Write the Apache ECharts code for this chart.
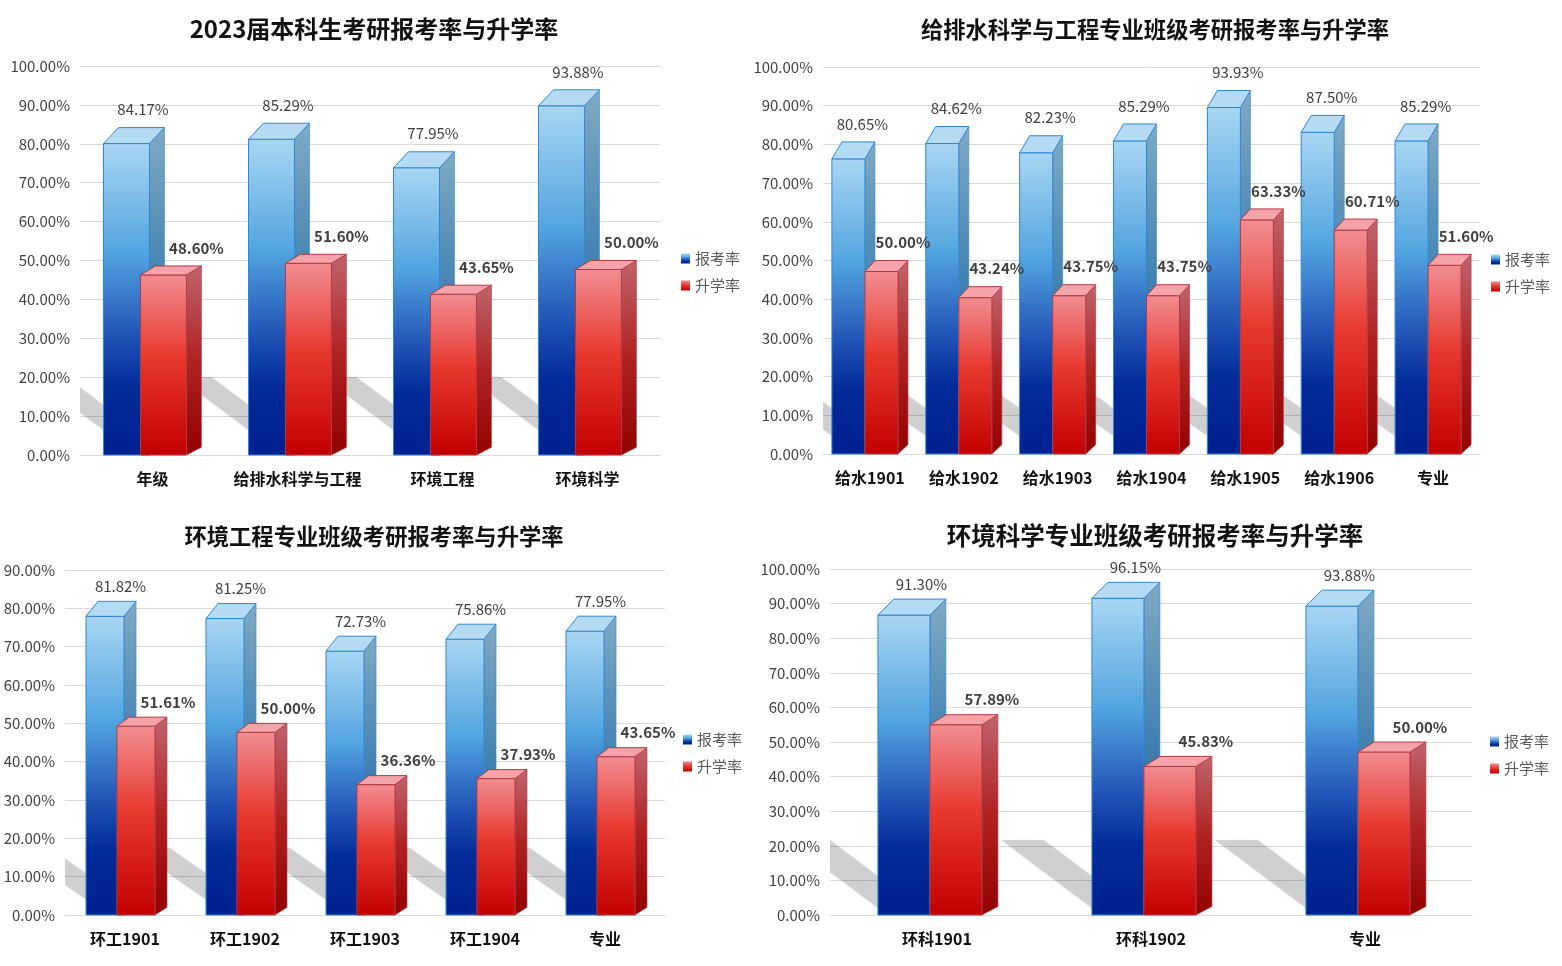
<!DOCTYPE html>
<html>
<head>
<meta charset="utf-8">
<title>考研报考率与升学率</title>
<script src="https://cdn.jsdelivr.net/npm/echarts@6/dist/echarts.min.js"></script>
<style>
html, body { margin: 0; padding: 0; background: #fff; }
#container { width: 1562px; height: 966px; }
</style>
</head>
<body>
<div id="container"></div>
<script>
// ---- data ----
var names = ['报考率', '升学率'];

var title1 = '2023届本科生考研报考率与升学率';
var cats1 = ['年级', '给排水科学与工程', '环境工程', '环境科学'];
var baokao1 = [84.17, 85.29, 77.95, 93.88];
var shengxue1 = [48.60, 51.60, 43.65, 50.00];

var title2 = '给排水科学与工程专业班级考研报考率与升学率';
var cats2 = ['给水1901', '给水1902', '给水1903', '给水1904', '给水1905', '给水1906', '专业'];
var baokao2 = [80.65, 84.62, 82.23, 85.29, 93.93, 87.50, 85.29];
var shengxue2 = [50.00, 43.24, 43.75, 43.75, 63.33, 60.71, 51.60];

var title3 = '环境工程专业班级考研报考率与升学率';
var cats3 = ['环工1901', '环工1902', '环工1903', '环工1904', '专业'];
var baokao3 = [81.82, 81.25, 72.73, 75.86, 77.95];
var shengxue3 = [51.61, 50.00, 36.36, 37.93, 43.65];

var title4 = '环境科学专业班级考研报考率与升学率';
var cats4 = ['环科1901', '环科1902', '专业'];
var baokao4 = [91.30, 96.15, 93.88];
var shengxue4 = [57.89, 45.83, 50.00];

var yMax = [100, 100, 90, 100];

// ---- layout / look ----
var FONT = '"Noto Sans CJK SC", "Noto Sans", sans-serif';
var dom = document.getElementById('container');
var myChart = echarts.init(dom);

function grad(stops) {
    return new echarts.graphic.LinearGradient(0, 0, 0, 1, stops.map(function (c) {
        return { offset: c[0], color: c[1] };
    }));
}

var look = {
    blue: {
        front: [[0, '#a9d6f3'], [0.35, '#52a5e0'], [0.6, '#2458b9'], [0.78, '#032b99'], [1, '#00218f']],
        side: [[0, '#80aac4'], [0.5, '#3d7fb0'], [1, '#173f8c']],
        top: '#b4dbf3',
        line: '#2f86d6',
        bold: false
    },
    red: {
        front: [[0, '#f28d92'], [0.45, '#e8392f'], [1, '#c10000']],
        side: [[0, '#c0646e'], [0.5, '#b02222'], [1, '#940000']],
        top: '#f4a3a9',
        line: '#b23a44',
        bold: true
    }
};

// per panel bar geometry (fractions of the category band, pixels for depth)
var geo = [
    { blueL: -0.338, redL: -0.083, w: 0.317, dx: 15, dyB: 16, dyR: 9, blueLab: 9, redLab: 25.5, labY: 18, sh: { a: 71, h: 78, t: 34, s: 0.75 } },
    { blueL: -0.405, redL: -0.053, w: 0.352, dx: 10, dyB: 17, dyR: 11, blueLab: 9, redLab: 16.5, labY: 18, sh: { a: 60, h: 60, t: 40, s: 0.7 } },
    { blueL: -0.325, redL: -0.067, w: 0.317, dx: 12, dyB: 15, dyR: 9, blueLab: 9.5, redLab: 26, labY: 15, sh: { a: 74, h: 67, t: 38, s: 0.7 } },
    { blueL: -0.276, redL: -0.033, w: 0.243, dx: 16, dyB: 16, dyR: 10, blueLab: 9.5, redLab: 28, labY: 15, sh: { a: 91, h: 75, t: 43, s: 0.75 } }
];

function barRender(g, kind) {
    var c = look[kind];
    var isBlue = kind === 'blue';
    return function (params, api) {
        var idx = api.value(0), val = api.value(1);
        var top = api.coord([idx, val]);
        var base = api.coord([idx, 0]);
        var bw = api.size([1, 0])[0];
        var w = bw * g.w;
        var xL = top[0] + bw * (isBlue ? g.blueL : g.redL);
        var xR = xL + w;
        var dx = g.dx, dy = isBlue ? g.dyB : g.dyR;
        var yB = top[1], yF = yB + dy, y0 = base[1];
        var dyBottom = isBlue ? dy * 0.55 : dy * 0.85;
        var labX = xL + w / 2 + dx / 2 + (isBlue ? g.blueLab : g.redLab);
        return {
            type: 'group',
            children: [{
                type: 'polygon',
                shape: { points: [[xR, yF], [xR + dx, yB], [xR + dx, y0 - dyBottom], [xR, y0]] },
                style: { fill: grad(c.side), stroke: c.line, lineWidth: 0.6 }
            }, {
                type: 'rect',
                shape: { x: xL, y: yF, width: w, height: y0 - yF },
                style: { fill: grad(c.front), stroke: c.line, lineWidth: 1 }
            }, {
                type: 'polygon',
                shape: { points: [[xL, yF], [xL + dx, yB], [xR + dx, yB], [xR, yF]] },
                style: { fill: c.top, stroke: c.line, lineWidth: 1 }
            }, {
                type: 'text',
                x: labX,
                y: yB - g.labY,
                style: {
                    text: val.toFixed(2) + '%',
                    fill: '#404040',
                    fontSize: 15,
                    fontFamily: FONT,
                    fontWeight: c.bold ? 'bold' : 'normal',
                    align: 'center',
                    verticalAlign: 'middle'
                }
            }]
        };
    };
}

function shadowRender(g) {
    var s = g.sh;
    return function (params, api) {
        var idx = api.value(0);
        var base = api.coord([idx, 0]);
        var bw = api.size([1, 0])[0];
        var L = base[0] + bw * g.blueL;
        var x1 = L - s.a, y0 = base[1], yT = y0 - s.h;
        return {
            type: 'polygon',
            shape: { points: [[x1, yT], [x1 + s.t, yT], [x1 + s.t + s.h / s.s, y0], [x1 + s.h / s.s, y0]] },
            style: { fill: 'rgba(0,0,0,0.17)', shadowBlur: 10, shadowColor: 'rgba(0,0,0,0.18)' }
        };
    };
}

var panels = [
    { title: title1, fs: 24, cats: cats1, a: baokao1, b: shengxue1, grid: { left: 80, top: 66, width: 580, height: 389 }, tx: 369, ty: 12, legend: { left: 676, top: 246 } },
    { title: title2, fs: 22.3, cats: cats2, a: baokao2, b: shengxue2, grid: { left: 823, top: 67, width: 657, height: 387 }, tx: 1150, ty: 13, legend: { left: 1486, top: 247 } },
    { title: title3, fs: 22.3, cats: cats3, a: baokao3, b: shengxue3, grid: { left: 65, top: 570, width: 600, height: 345 }, tx: 369, ty: 520, legend: { left: 678, top: 727 } },
    { title: title4, fs: 24.5, cats: cats4, a: baokao4, b: shengxue4, grid: { left: 830, top: 569, width: 642, height: 346 }, tx: 1150, ty: 518, legend: { left: 1485, top: 729 } }
];

var option = {
    animation: false,
    textStyle: { fontFamily: FONT },
    title: [], grid: [], xAxis: [], yAxis: [], legend: [], series: []
};

panels.forEach(function (p, k) {
    option.title.push({
        text: p.title, left: p.tx, top: p.ty, textAlign: 'center',
        textStyle: { fontSize: p.fs, fontWeight: 'bold', color: '#111', fontFamily: FONT }
    });
    option.grid.push(p.grid);
    option.xAxis.push({
        type: 'category', gridIndex: k, data: p.cats,
        axisTick: { show: false },
        axisLine: { lineStyle: { color: '#d9d9d9' } },
        axisLabel: { fontSize: 16, fontWeight: 'bold', color: '#111', margin: 16, interval: 0 }
    });
    option.yAxis.push({
        type: 'value', gridIndex: k, min: 0, max: yMax[k], interval: 10,
        axisLine: { show: false }, axisTick: { show: false },
        splitLine: { lineStyle: { color: '#d9d9d9' } },
        axisLabel: {
            fontSize: 15, color: '#404040', margin: 10,
            formatter: function (v) { return v.toFixed(2) + '%'; }
        }
    });
    option.legend.push({
        data: names, orient: 'vertical', left: p.legend.left, top: p.legend.top,
        icon: 'rect', itemWidth: 9, itemHeight: 10, itemGap: 12,
        textStyle: { fontSize: 15, color: '#595959' }
    });
    var g = geo[k];
    option.series.push({
        type: 'custom', name: 'shadow' + k, xAxisIndex: k, yAxisIndex: k, z: 1, clip: true, silent: true,
        renderItem: shadowRender(g),
        encode: { x: 0, y: 1 },
        data: p.a.map(function (v, i) { return [i, v]; })
    });
    option.series.push({
        type: 'custom', name: names[0], xAxisIndex: k, yAxisIndex: k, z: 2,
        itemStyle: { color: grad(look.blue.front) },
        renderItem: barRender(g, 'blue'),
        encode: { x: 0, y: 1 },
        data: p.a.map(function (v, i) { return [i, v]; })
    });
    option.series.push({
        type: 'custom', name: names[1], xAxisIndex: k, yAxisIndex: k, z: 3,
        itemStyle: { color: grad(look.red.front) },
        renderItem: barRender(g, 'red'),
        encode: { x: 0, y: 1 },
        data: p.b.map(function (v, i) { return [i, v]; })
    });
});

if (option && typeof option === 'object') {
    myChart.setOption(option, true);
}
</script>
</body>
</html>
